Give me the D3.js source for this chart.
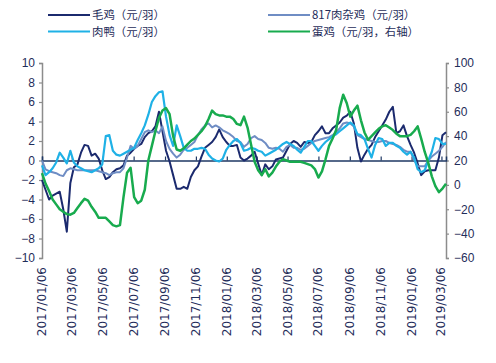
<!DOCTYPE html>
<html>
<head>
<meta charset="utf-8">
<script src="https://cdn.jsdelivr.net/npm/d3@7/dist/d3.min.js"></script>
<style>
body { margin: 0; background: #fff; }
</style>
</head>
<body>
<div id="mainDiv"></div>
<script>
'use strict';

// weekly series, first week 2017/01/06
var startDate = "2017/01/06";
var lastDate = "2019/03/15";

var tickLabels = ["2017/01/06", "2017/03/06", "2017/05/06", "2017/07/06", "2017/09/06", "2017/11/06",
    "2018/01/06", "2018/03/06", "2018/05/06", "2018/07/06", "2018/09/06", "2018/11/06",
    "2019/01/06", "2019/03/06"];
var leftTicks = [-10, -8, -6, -4, -2, 0, 2, 4, 6, 8, 10];
var rightTicks = [-60, -40, -20, 0, 20, 40, 60, 80, 100];

var seriesNames = ["毛鸡（元/羽）", "817肉杂鸡（元/羽）", "肉鸭（元/羽）", "蛋鸡（元/羽，右轴）"];

var maoji = [-2.0, -3.0, -4.0, -3.6, -3.4, -3.2, -5.0, -7.3, -2.3, -0.7,
    -0.4, 0.8, 1.6, 1.5, 0.5, 0.7, 0.2, -1.0, -1.9, -1.7,
    -1.2, -0.9, -0.8, -0.5, 0.5, 0.8, 1.2, 1.5, 1.7, 2.4,
    2.8, 3.0, 3.5, 5.0, 3.0, 1.0, -0.1, -1.5, -2.9, -2.9,
    -2.7, -2.9, -1.7, -1.0, -0.6, 0.4, 1.3, 1.6, 1.9, 2.4,
    3.2, 2.4, 1.9, 1.5, 1.5, 1.6, 0.3, 0.0, 0.2, 0.5,
    0.9, -0.3, -1.5, -0.4, -0.9, -0.6, 0.1, 0.2, 0.3, 1.0,
    1.7, 2.0, 1.8, 1.4, 1.9, 1.8, 1.9, 2.6, 3.0, 3.5,
    2.8, 2.8, 3.3, 3.6, 3.9, 4.4, 4.6, 5.0, 3.8, 1.3,
    -0.1, 0.6, 1.2, 1.6, 2.4, 3.0, 3.6, 4.2, 5.0, 5.5,
    2.8, 3.0, 3.6, 2.5, 1.6, 0.8, -0.3, -1.5, -1.1, -1.0,
    -1.0, -1.0, 0.3, 2.6, 2.9];

var zajiji = [0.0, -0.9, -1.1, -1.2, -1.3, -1.5, -1.6, -1.0, -0.8, -0.9,
    -1.0, -1.0, -1.0, -1.0, -1.0, -1.0, -1.1, -1.2, -1.3, -1.5,
    -1.3, -1.2, -1.2, -0.8, 0.3, 1.5, 1.2, 1.5, 2.2, 2.9,
    3.1, 2.9, 3.1, 2.8, 3.5, 2.0, 1.2, 0.7, 0.3, 0.6,
    1.1, 1.3, 1.6, 1.9, 2.6, 3.2, 3.6, 3.8, 3.4, 3.6,
    3.4, 3.1, 2.9, 2.7, 2.4, 2.0, 1.9, 1.4, 1.7, 2.3,
    2.5, 2.2, 2.1, 1.8, 1.3, 1.2, 1.3, 1.2, 0.9, 1.4,
    1.6, 1.3, 1.3, 1.1, 1.2, 1.5, 1.8, 2.0, 2.1, 2.2,
    2.3, 2.4, 2.6, 2.9, 3.3, 3.8, 3.9, 3.8, 3.5, 2.6,
    2.4, 2.2, 2.1, 2.0, 1.9, 1.9, 2.0, 2.0, 1.8, 1.7,
    1.6, 1.4, 1.1, 0.9, 0.9, 0.1, -0.6, -0.6, -0.6, 0.0,
    0.4, 0.7, 1.0, 1.4, 1.9];

var rouya = [-0.5, -1.5, -1.2, -0.8, -0.2, 0.8, 0.3, -0.3, 1.0, -0.2,
    -0.6, -0.8, -1.0, -1.1, -1.2, -1.0, -0.8, -0.4, 2.5, 2.6,
    1.0, 0.6, 0.5, 0.7, 0.9, 1.1, 1.3, 2.1, 2.8, 3.6,
    4.7, 6.0, 6.6, 7.0, 7.1, 4.5, 2.6, 1.5, 3.6, 2.5,
    1.3, 1.0, 1.0, 1.2, 1.2, 1.3, 1.2, 0.6, 0.2, 0.0,
    -0.1, 0.2, 1.1, 1.6, 2.0, 2.2, 1.8, 1.0, 1.1, 1.3,
    1.2, 1.0, 0.9, 0.5, 0.7, 0.9, 1.1, 1.4, 1.7, 1.9,
    1.7, 1.5, 1.1, 0.8, 1.4, 2.0, 2.0, 1.5, 1.0, 1.5,
    1.9, 2.2, 2.5, 2.7, 3.0, 3.3, 3.6, 3.9, 3.6, 2.7,
    2.6, 2.2, 1.2, 0.3, 1.6, 2.3, 2.2, 1.5, 1.8, 1.8,
    1.5, 1.3, 0.9, 0.6, 0.9, 0.3, -0.9, -1.2, -1.0, 0.0,
    0.9, 2.3, 2.2, 1.7, 1.7];

var danji = [9.6, 1, -5, -12, -16, -20, -22, -24, -24.5, -23,
    -19, -15, -11.5, -13, -18, -22, -27, -27, -27, -30,
    -33, -34, -33, -10, 10, 14, -10, -15, -13, -4,
    20, 32, 44, 55, 61, 63, 58, 40, 29, 28,
    30, 33, 36, 38, 41, 44, 48, 54, 61, 58,
    57, 57, 56, 56, 54, 50, 49, 56, 47, 33,
    19, 12, 8, 13, 7, 10, 15, 19, 21, 20,
    19, 19, 19, 19, 18, 17, 16, 13, 6, 11,
    21, 32, 38, 45, 63, 74, 67, 56, 61, 65,
    53, 43, 37, 40, 43, 46, 48, 49, 47, 45,
    42, 40, 40, 40, 41, 44, 48, 38, 27, 18,
    7, -1, -6, -3, 1];

var myApp = {};

myApp.run = function ()
{
    var W = 496, H = 363;
    var parse = d3.timeParse("%Y/%m/%d");
    var t0 = parse(startDate);
    var dates = maoji.map(function (d, i) { return d3.timeDay.offset(t0, 7 * i); });

    var svg = d3.select("#mainDiv").append("svg")
        .attr("width", W)
        .attr("height", H)
        .style("font-family", "'Century Gothic', 'DejaVu Sans', sans-serif");

    var x = d3.scaleTime().domain([t0, parse(lastDate)]).range([42, 446]);
    var yL = d3.scaleLinear().domain([-10, 10]).range([258, 63]);
    var yR = d3.scaleLinear().domain([-60, 100]).range([258, 63]);

    var textColor = "#1f2d5a";
    var axisGray = "#8c8c8c";

    // left axis
    var gL = svg.append("g").attr("transform", "translate(42,0)")
        .call(d3.axisLeft(yL).tickValues(leftTicks).tickSize(3).tickPadding(4));
    // right axis
    var gR = svg.append("g").attr("transform", "translate(446,0)")
        .call(d3.axisRight(yR).tickValues(rightTicks).tickSize(3).tickPadding(5));
    [gL, gR].forEach(function (g) {
        g.select(".domain").attr("stroke", axisGray).attr("stroke-width", 1.5);
        g.selectAll(".tick line").attr("stroke", axisGray).attr("stroke-width", 1.2);
        g.selectAll("text").attr("fill", textColor).attr("font-size", "12px");
    });

    // category labels at bottom, rotated
    var tickDates = tickLabels.map(parse);
    svg.append("g").selectAll("text")
        .data(tickLabels)
        .enter()
        .append("text")
            .text(function (d) { return d; })
            .attr("transform", function (d, i) {
                return "translate(" + (x(tickDates[i]) + 4) + ",267) rotate(-90)";
            })
            .attr("text-anchor", "end")
            .attr("font-size", "12px")
            .attr("fill", textColor);

    // zero line with upward ticks
    var gX = svg.append("g").attr("transform", "translate(0," + yL(0) + ")")
        .call(d3.axisTop(x).tickValues(tickDates).tickSize(4).tickFormat(""));
    gX.select(".domain").attr("stroke", "#1f3864").attr("stroke-width", 1.5);
    gX.selectAll(".tick line").attr("stroke", "#1f3864").attr("stroke-width", 1.2);

    var series = [
        { name: seriesNames[0], values: maoji, scale: yL, color: "#1b2a6e", width: 2 },
        { name: seriesNames[1], values: zajiji, scale: yL, color: "#6f8dc4", width: 2 },
        { name: seriesNames[2], values: rouya, scale: yL, color: "#1fb1e6", width: 2.2 },
        { name: seriesNames[3], values: danji, scale: yR, color: "#18ab4e", width: 2.5 }
    ];

    series.forEach(function (s) {
        var line = d3.line()
            .x(function (d, i) { return x(dates[i]); })
            .y(function (d) { return s.scale(d); });
        svg.append("path")
            .datum(s.values)
            .attr("d", line)
            .attr("fill", "none")
            .attr("stroke", s.color)
            .attr("stroke-width", s.width)
            .attr("stroke-linejoin", "round");
    });

    // legend
    var legendPos = [[48, 15], [268, 15], [48, 31.5], [268, 31.5]];
    var legend = svg.append("g").selectAll("g")
        .data(series)
        .enter()
        .append("g")
            .attr("transform", function (d, i) { return "translate(" + legendPos[i][0] + "," + legendPos[i][1] + ")"; });
    legend.append("line")
        .attr("x1", 0).attr("x2", 42)
        .attr("stroke", function (d) { return d.color; })
        .attr("stroke-width", 2.2);
    legend.append("text")
        .text(function (d) { return d.name; })
        .attr("x", 44)
        .attr("dy", "0.36em")
        .attr("font-size", "11.4px")
        .attr("font-family", "'Noto Sans CJK SC', sans-serif")
        .attr("fill", textColor);
};

window.onload = myApp.run;
</script>
</body>
</html>
